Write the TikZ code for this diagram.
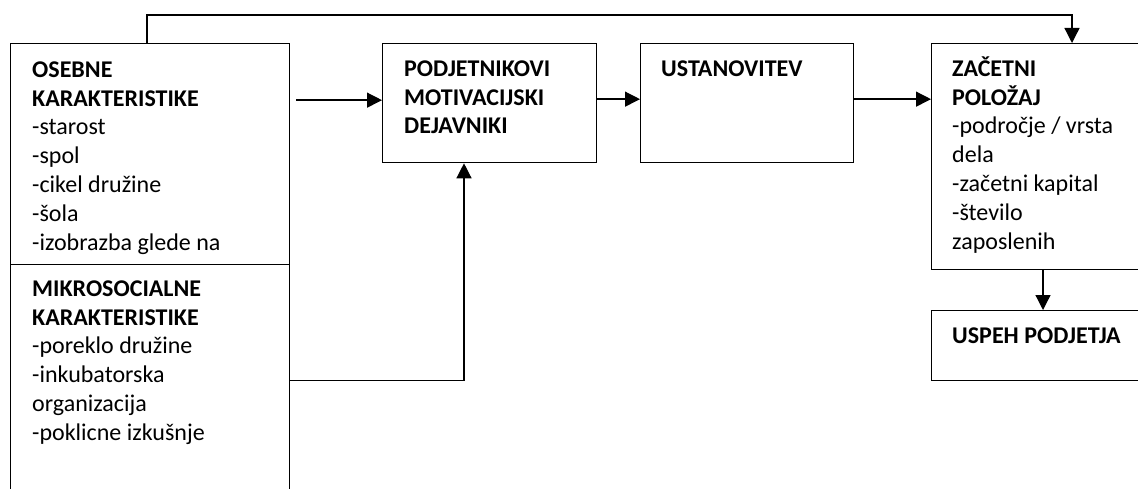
\documentclass[tikz,border=0pt]{standalone}
\usepackage{fontspec}
\setmainfont{Carlito}
\usetikzlibrary{arrows.meta}
\begin{document}
\begin{tikzpicture}[x=1pt,y=-1pt,
  box/.style={draw, line width=1.3pt, inner sep=0pt, anchor=north west},
  txt/.style={anchor=north west, inner sep=0pt, align=left,
    font=\fontsize{24}{28.8}\selectfont},
  arr/.style={line width=1.3pt, -{Triangle[length=15pt,width=15pt]}}]
\useasboundingbox (0,0) rectangle (1138,489);
\clip (0,0) rectangle (1138,489);

% boxes
\node[box, minimum width=279pt, minimum height=221pt] (osebne) at (10,43) {};
\node[box, minimum width=279pt, minimum height=256pt] (mikro)  at (10,264) {};
\node[box, minimum width=214pt, minimum height=119pt] (podj)   at (382,43) {};
\node[box, minimum width=213pt, minimum height=119pt] (ust)    at (640,43) {};
\node[box, minimum width=260pt, minimum height=226pt] (zac)    at (931,43) {};
\node[box, minimum width=260pt, minimum height=70pt]  (uspeh)  at (931,310) {};

% texts
\node[txt] (tosebne) at ([xshift=22pt,yshift=-14pt]osebne.north west)
  {\strut\textbf{OSEBNE}\\\strut\textbf{KARAKTERISTIKE}\\\strut-starost\\\strut-spol\\
   \strut-cikel družine\\\strut-šola\\\strut-izobrazba glede na};
\node[txt] (tmikro) at ([xshift=22pt,yshift=-12pt]mikro.north west)
  {\strut\textbf{MIKROSOCIALNE}\\\strut\textbf{KARAKTERISTIKE}\\\strut-poreklo družine\\
   \strut-inkubatorska\\\strut organizacija\\\strut-poklicne izkušnje};
\node[txt] (tpodj) at ([xshift=22pt,yshift=-13pt]podj.north west)
  {\strut\textbf{PODJETNIKOVI}\\\strut\textbf{MOTIVACIJSKI}\\\strut\textbf{DEJAVNIKI}};
\node[txt] (tust) at ([xshift=21pt,yshift=-13pt]ust.north west)
  {\strut\textbf{USTANOVITEV}};
\node[txt] (tzac) at ([xshift=21pt,yshift=-13pt]zac.north west)
  {\strut\textbf{ZAČETNI}\\\strut\textbf{POLOŽAJ}\\\strut-področje / vrsta\\\strut dela\\
   \strut-začetni kapital\\\strut-število\\\strut zaposlenih};
\node[txt] (tuspeh) at ([xshift=21pt,yshift=-13pt]uspeh.north west)
  {\strut\textbf{USPEH PODJETJA}};

% connectors
\coordinate (top) at (0,15);
\coordinate (a) at ([xshift=137pt]osebne.north west);
\coordinate (b) at ([xshift=141pt]zac.north west);
\draw[arr] (a) -- (a |- top) -- (b |- top) -- (b);

\draw[arr] ([xshift=6pt,yshift=3pt]osebne.east |- podj.west) -- ([yshift=3pt]podj.west);
\draw[arr] ([yshift=4pt]podj.east) -- ([yshift=4pt]ust.west);
\draw[arr] ([yshift=4pt]ust.east) -- ([yshift=4pt]ust.east -| zac.west);
\draw[arr] ([xshift=112pt]zac.south west) -- ([xshift=112pt]uspeh.north west);
\draw[arr] ([yshift=12pt]mikro.east) -| ([xshift=82pt]podj.south west);
\end{tikzpicture}
\end{document}
